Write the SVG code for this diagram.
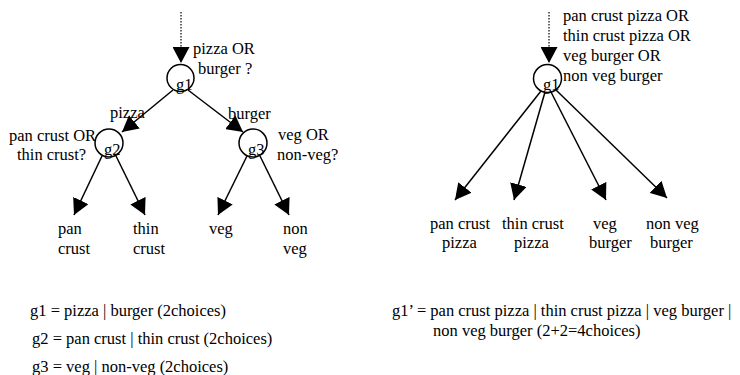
<svg xmlns="http://www.w3.org/2000/svg" width="740" height="375" viewBox="0 0 740 375" font-family="Liberation Serif, DejaVu Serif, serif">
<style>
text{font-family:'Liberation Serif','DejaVu Serif',serif;font-size:16.5px;fill:#000}
.c{fill:none;stroke:#000;stroke-width:1.5}
.e{fill:none;stroke:#000;stroke-width:1.5;marker-end:url(#ah)}
.d{fill:none;stroke:#000;stroke-width:1.2;stroke-dasharray:1.5 1.5;marker-end:url(#ah)}
</style>
<defs>
<marker id="ah" markerUnits="userSpaceOnUse" viewBox="0 0 16 17" markerWidth="16" markerHeight="17" refX="16" refY="8.5" orient="auto">
<path d="M0,0 L16,8.5 L0,17 z" fill="#000"/>
</marker>
</defs>
<rect width="740" height="375" fill="#fff"/>
<g id="connectors">
<path class="d" d="M181,12 V63"/>
<path class="e" d="M173,90 L122,132"/>
<path class="e" d="M188,90 L243,132"/>
<path class="e" d="M102,156 L74,215"/>
<path class="e" d="M116,156 L145,215"/>
<path class="e" d="M247,156 L218,215"/>
<path class="e" d="M260,156 L289,215"/>
<path class="d" d="M549,12 V63"/>
<path class="e" d="M541,91 L455,200"/>
<path class="e" d="M545,92 L514,200"/>
<path class="e" d="M551,92 L606,200"/>
<path class="e" d="M556,90 L667,198"/>
</g>
<g id="g1">
<circle class="c" cx="180.5" cy="78" r="13.5"/>
<text x="176" y="90">g1</text>
<text x="193" y="54">pizza OR</text>
<text x="198" y="74">burger ?</text>
</g>
<g id="g2">
<circle class="c" cx="109" cy="143" r="14"/>
<text x="104" y="155">g2</text>
<text x="9" y="141">pan crust OR</text>
<text x="17" y="160">thin crust?</text>
</g>
<g id="g3">
<circle class="c" cx="253" cy="143" r="14"/>
<text x="248" y="155">g3</text>
<text x="278" y="140">veg OR</text>
<text x="277" y="160">non-veg?</text>
</g>
<g id="edge-labels">
<text x="110" y="118">pizza</text>
<text x="228" y="119">burger</text>
</g>
<g id="leaf-pan-crust"><text x="58" y="234">pan</text><text x="58" y="254">crust</text></g>
<g id="leaf-thin-crust"><text x="133" y="234">thin</text><text x="133" y="254">crust</text></g>
<g id="leaf-veg"><text x="209" y="234">veg</text></g>
<g id="leaf-non-veg"><text x="283" y="234">non</text><text x="283" y="254">veg</text></g>
<g id="legend-left">
<text x="30" y="316">g1 = pizza | burger (2choices)</text>
<text x="32" y="344">g2 = pan crust | thin crust (2choices)</text>
<text x="32" y="372">g3 = veg | non-veg (2choices)</text>
</g>
<g id="g1prime">
<circle class="c" cx="547.5" cy="78.5" r="14"/>
<text x="543" y="90">g1</text>
<text x="563" y="21">pan crust pizza OR</text>
<text x="563" y="41">thin crust pizza OR</text>
<text x="563" y="61">veg burger OR</text>
<text x="563" y="81">non veg burger</text>
</g>
<g id="leaf-pan-crust-pizza"><text x="430" y="229">pan crust</text><text x="442" y="248">pizza</text></g>
<g id="leaf-thin-crust-pizza"><text x="502" y="229">thin crust</text><text x="514" y="248">pizza</text></g>
<g id="leaf-veg-burger"><text x="593" y="229">veg</text><text x="589" y="248">burger</text></g>
<g id="leaf-non-veg-burger"><text x="646" y="229">non veg</text><text x="650" y="248">burger</text></g>
<g id="legend-right">
<text x="392" y="316">g1’ = pan crust pizza | thin crust pizza | veg burger |</text>
<text x="433" y="336">non veg burger (2+2=4choices)</text>
</g>
</svg>
